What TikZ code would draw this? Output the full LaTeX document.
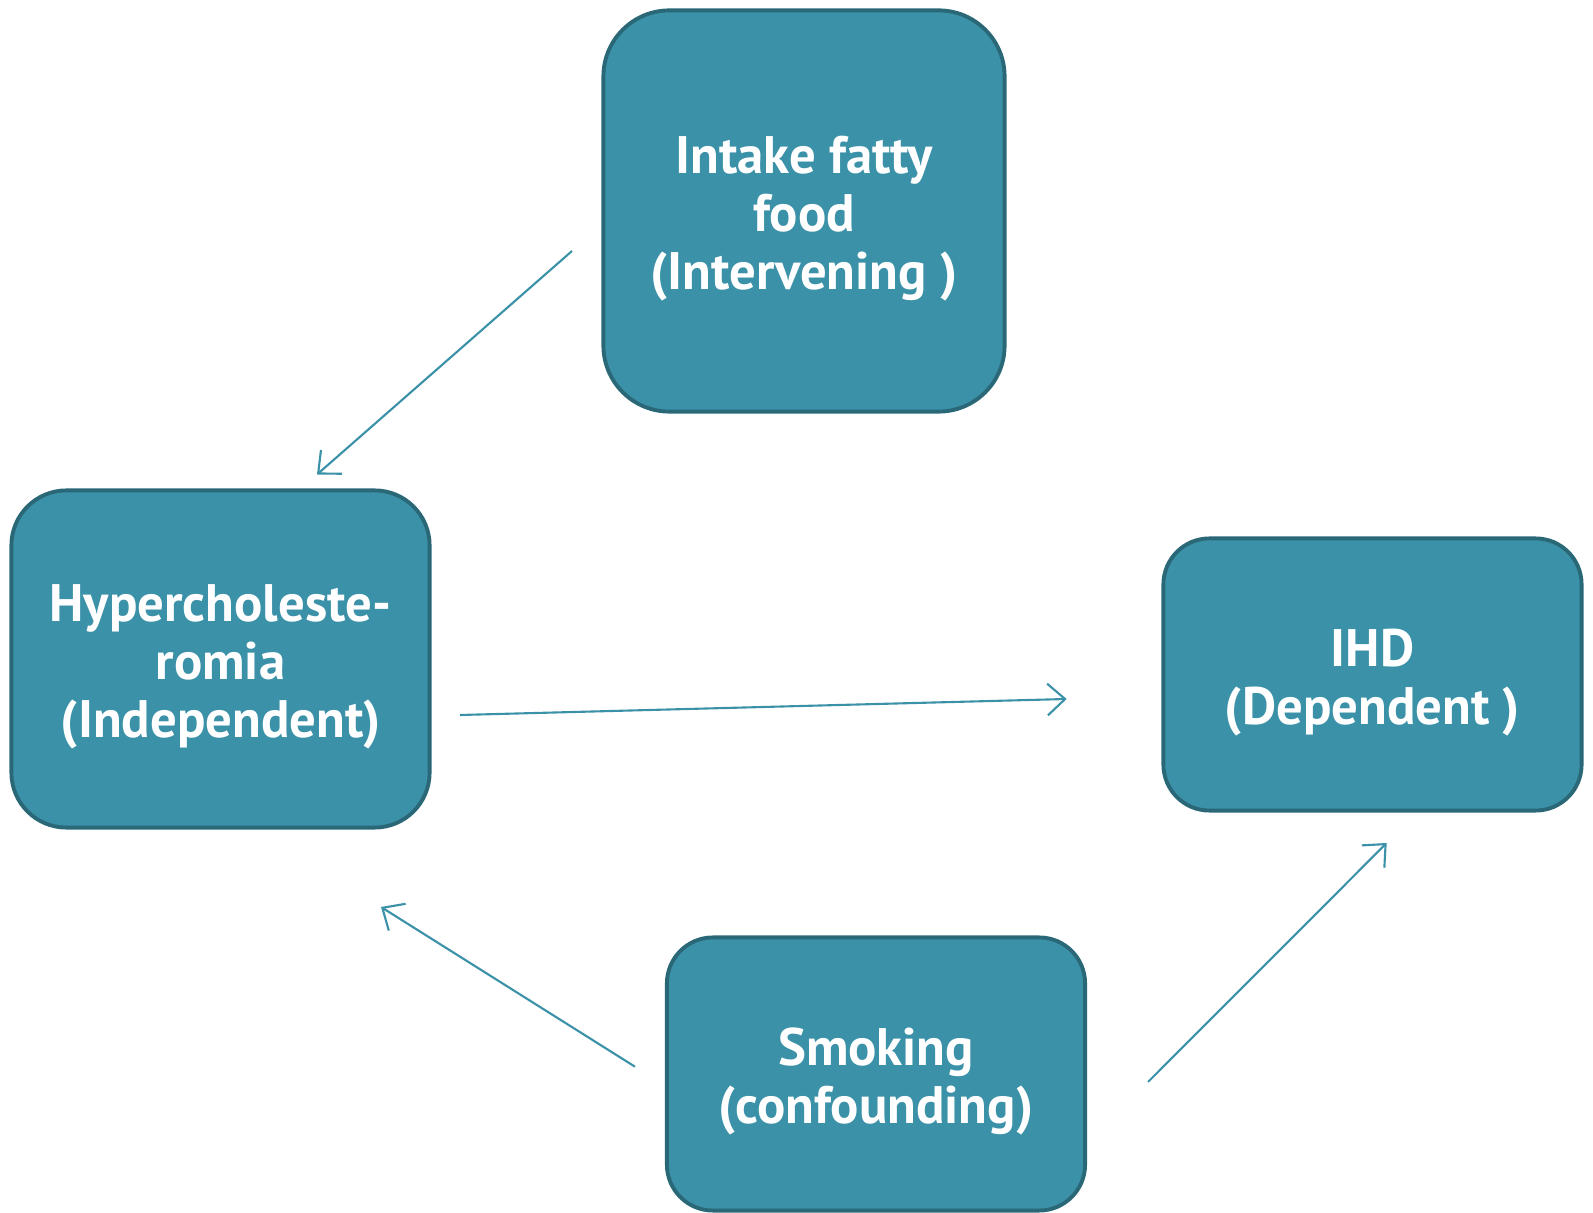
\documentclass[tikz,border=0pt]{standalone}
\usepackage{xcolor}
\usepackage{fontspec}
\setmainfont{PT Sans}
\usetikzlibrary{arrows.meta}
\definecolor{boxfill}{HTML}{3A91A8}
\definecolor{boxline}{HTML}{2A6878}
\newcommand{\lift}{\rule{0pt}{0.53cm}}

\begin{document}
\begin{tikzpicture}[x=0.01cm,y=-0.01cm,
    varbox/.style={draw=boxline,fill=boxfill,line width=1.1pt,inner sep=0pt,
        align=center,text=white,font=\fontsize{15}{16.5}\selectfont\bfseries},
    link/.style={draw=boxfill,line width=0.6pt,-{Straight Barb[length=5pt,width=9pt]}}]
                \useasboundingbox (0,0) rectangle (1593,1213);

                \node[varbox,minimum width=4.01cm,minimum height=4.01cm,rounded corners=0.66cm] (food) at (804,211) {\lift Intake fatty\\food\\(Intervening )};
                \node[varbox,minimum width=4.18cm,minimum height=3.37cm,rounded corners=0.55cm] (hyper) at (220.5,659) {\lift Hypercholeste-\\romia\\(Independent)};
                \node[varbox,minimum width=4.18cm,minimum height=2.72cm,rounded corners=0.46cm] (ihd) at (1372.5,674.5) {\lift IHD\\(Dependent )};
                \node[varbox,minimum width=4.18cm,minimum height=2.73cm,rounded corners=0.46cm] (smoke) at (876,1074) {\lift Smoking\\(confounding)};

                \coordinate (foodout) at (572,251);
                \coordinate (hyperin) at (317,474.5);
                \coordinate (hyperout) at (460,715);
                \coordinate (ihdin) at (1066.7,699);
                \coordinate (smokeleft) at (635,1066.7);
                \coordinate (hyperlow) at (381,907);
                \coordinate (smokeright) at (1148,1082);
                \coordinate (ihdlow) at (1386.7,843);

                \draw[link] (foodout) -- (hyperin);
                \draw[link] (hyperout) -- (ihdin);
                \draw[link] (smokeleft) -- (hyperlow);
                \draw[link] (smokeright) -- (ihdlow);
            \end{tikzpicture}
\end{document}
